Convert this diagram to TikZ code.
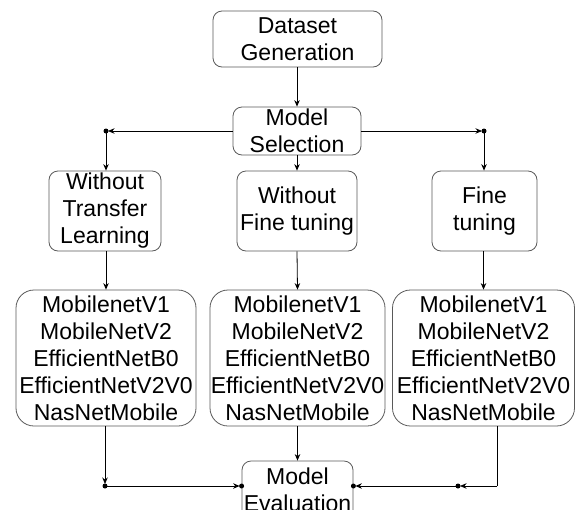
\documentclass[tikz,border=0pt]{standalone}
\usepackage{fontspec}
\setmainfont{Liberation Sans}
\usetikzlibrary{arrows.meta,positioning,calc}
\tikzset{
  stagebox/.style={draw=black!65,rounded corners=9pt,align=center,inner sep=0pt,
    font=\fontsize{23}{27}\selectfont,line width=0.8pt},
  modelbox/.style={stagebox,rounded corners=18pt},
  flowarrow/.style={-{Stealth[length=6.5pt,width=5.5pt]},line width=0.8pt},
  dotarrow/.style={flowarrow,shorten >=2pt},
  flowline/.style={line width=0.8pt}
}
\begin{document}
\begin{tikzpicture}[x=1pt,y=-1pt]
  \useasboundingbox (0,0) rectangle (575,509);
  \clip (0,0) rectangle (575,509);
  % top of the flow
  \node[stagebox,minimum width=169,minimum height=56] (gen) at (297.5,39) {Dataset\\Generation};
  \node[stagebox,minimum width=128,minimum height=48] (sel) at (297,131) {Model\\Selection};
  % three training set-ups
  \node[stagebox,minimum width=112,minimum height=80] (notl) at (105,211) {Without\\Transfer\\Learning};
  \node[stagebox,minimum width=120,minimum height=80] (noft) at (297,211) {Without\\Fine tuning};
  \node[stagebox,minimum width=105,minimum height=80] (ft) at (484.5,211) {Fine\\tuning};
  % model lists
  \node[modelbox,minimum width=180,minimum height=136] (listA) at (106,358)
    {MobilenetV1\\MobileNetV2\\EfficientNetB0\\EfficientNetV2V0\\NasNetMobile};
  \node[modelbox,minimum width=175,minimum height=136] (listB) at (297.5,358)
    {MobilenetV1\\MobileNetV2\\EfficientNetB0\\EfficientNetV2V0\\NasNetMobile};
  \node[modelbox,minimum width=182,minimum height=136] (listC) at (483.5,358)
    {MobilenetV1\\MobileNetV2\\EfficientNetB0\\EfficientNetV2V0\\NasNetMobile};
  \node[stagebox,minimum width=111,minimum height=58] (eval) at (297.5,490) {Model\\Evaluation};

  \coordinate (jTL) at (106,131);
  \coordinate (jTR) at (484,131);
  \coordinate (jBL) at (105,486);
  \coordinate (jBR) at (458,486);
  \coordinate (cBR) at (497,486);

  \draw[flowarrow] (gen.south -| sel.north) -- (sel.north);
  \draw[dotarrow] (sel.west) -- (jTL);
  \draw[dotarrow] (sel.east) -- (jTR);
  \fill (jTL) circle (2.5pt) (jTR) circle (2.5pt);
  \draw[flowarrow] (jTL) -- (notl.north -| jTL);
  \draw[flowarrow] (sel.south) -- (noft.north);
  \draw[flowarrow] (jTR) -- (ft.north -| jTR);

  \draw[flowarrow] (notl.south -| listA.north) -- (listA.north);
  \draw[flowarrow] (noft.south) -- (listB.north);
  \draw[flowarrow] (ft.south -| listC.north) -- (listC.north);

  % back to evaluation
  \draw[dotarrow] (listA.south -| jBL) -- (jBL);
  \fill (jBL) circle (2.5pt);
  \draw[dotarrow] (jBL) -- (jBL -| eval.west);
  \fill (jBL -| eval.west) circle (2.5pt);
  \draw[flowarrow] (listB.south) -- (eval.north);
  \draw[flowline] (listC.south -| cBR) -- (cBR);
  \draw[dotarrow] (cBR) -- (jBR);
  \fill (jBR) circle (2.5pt);
  \draw[dotarrow] (jBR) -- (jBR -| eval.east);
  \fill (jBR -| eval.east) circle (2.5pt);
\end{tikzpicture}
\end{document}
